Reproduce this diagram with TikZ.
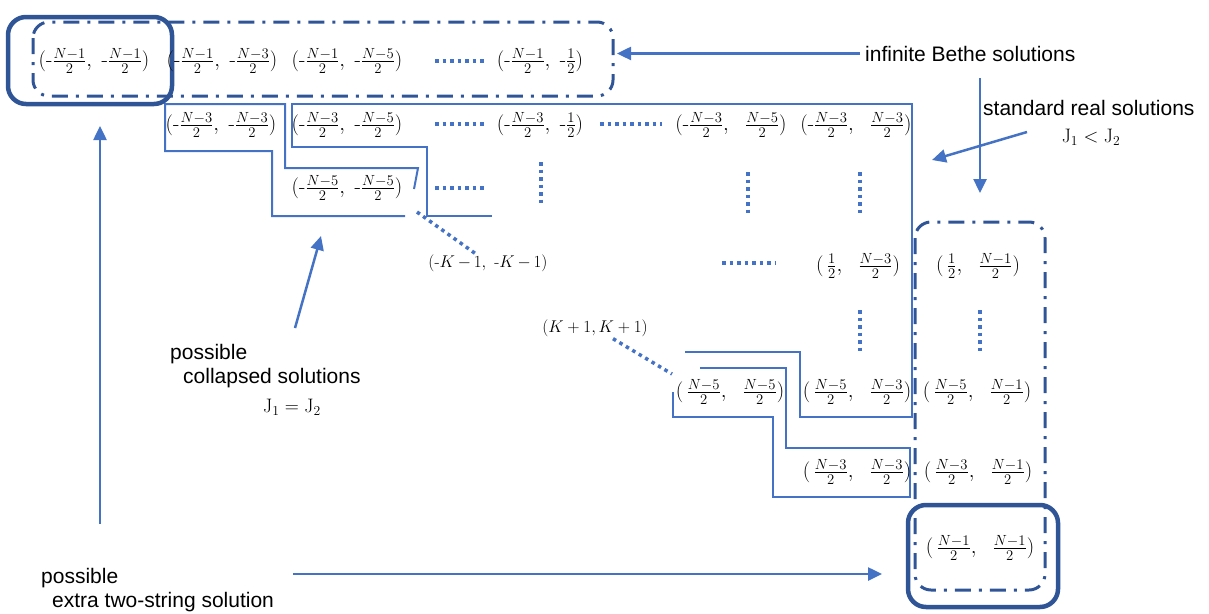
\RequirePackage{fix-cm}
\documentclass[tikz,border=0pt]{standalone}
\usepackage{fontspec}
\newfontfamily\arialf{Liberation Sans}
\usetikzlibrary{arrows.meta}
\definecolor{lb}{RGB}{68,114,196}
\definecolor{db}{RGB}{47,85,151}
\newcommand{\hy}{\mbox{-}}
\newcommand{\fr}[1]{\frac{#1}{2}}
\newcommand{\tm}{\mkern-1mu-\mkern-1mu}
\begin{document}
\begin{tikzpicture}[x=1pt,y=-1pt,
  lbl/.style={font=\arialf\fontsize{21}{25}\selectfont, inner sep=0pt},
  pr/.style={font=\fontsize{21}{25}\selectfont, inner sep=0pt},
  kk/.style={font=\fontsize{17}{20}\selectfont, inner sep=0pt},
  jj/.style={font=\fontsize{19.5}{22}\selectfont, inner sep=0pt},
  thinline/.style={draw=lb, line width=2pt},
  ddbox/.style={draw=db, line width=3pt, dash pattern=on 16pt off 8pt on 3pt off 8pt, rounded corners=16pt},
  thickbox/.style={draw=db, line width=4.5pt, rounded corners=18pt},
  dotline/.style={draw=lb, line width=3.5pt, dash pattern=on 3.5pt off 4pt},
  arr/.style={draw=lb, line width=2.5pt, -{Triangle[length=14pt,width=13pt]}}]
\useasboundingbox (0,0) rectangle (1209,613);

% staircase outlines
\draw[thinline] (492,216) -- (427,216) -- (427,147) -- (292,147) -- (292,104) -- (912,104) -- (912,417) -- (800,417) -- (800,352) -- (685,352);
\draw[thinline] (405,216) -- (272,216) -- (272,151) -- (165,151) -- (165,104) -- (285,104) -- (285,168) -- (418,168) -- (414,189);
\draw[thinline] (673,392) -- (673,417) -- (773,417) -- (773,497) -- (910,497) -- (910,448) -- (786,448) -- (786,368) -- (700,368);

% boxes
\draw[ddbox] (33,22) rectangle (613,96);
\draw[ddbox] (915,222) rectangle (1045,590);
\draw[thickbox] (8,17) rectangle (172,104);
\draw[thickbox] (908,505) rectangle (1058,607);

% row 1
\node[pr] (a11) at (94,61) {$(\hy\fr{N-1},\;\hy\fr{N-1})$};
\node[pr] (a12) at (222,61) {$(\hy\fr{N-1},\;\hy\fr{N-3})$};
\node[pr] (a13) at (347,61) {$(\hy\fr{N-1},\;\hy\fr{N-5})$};
\node[pr] (a14) at (540,61) {$(\hy\fr{N-1},\;\hy\fr{1})$};
% row 2
\node[pr] (a22) at (221,125) {$(\hy\fr{N-3},\;\hy\fr{N-3})$};
\node[pr] (a23) at (347,125) {$(\hy\fr{N-3},\;\hy\fr{N-5})$};
\node[pr] (a24) at (540,125) {$(\hy\fr{N-3},\;\hy\fr{1})$};
\node[pr] (a25) at (731,125) {$(\hy\fr{N-3},\ \ \fr{N-5})$};
\node[pr] (a26) at (856,125) {$(\hy\fr{N-3},\ \ \fr{N-3})$};
% row 3
\node[pr] (a33) at (347,188) {$(\hy\fr{N-5},\;\hy\fr{N-5})$};
% row 4
\node[kk] (kneg) at (488,263) {$(\hy K\tm 1,\ \hy K\tm 1)$};
\node[pr] (a45) at (858,266) {$(\,\fr{1},\ \ \fr{N-3})$};
\node[pr] (a46) at (978,266) {$(\,\fr{1},\ \ \fr{N-1})$};
% row 5
\node[kk] (kpos) at (595,328) {$(K+1,K+1)$};
% row 6
\node[pr] (a64) at (730,392) {$(\,\fr{N-5},\ \ \fr{N-5})$};
\node[pr] (a65) at (857,392) {$(\,\fr{N-5},\ \ \fr{N-3})$};
\node[pr] (a66) at (977,392) {$(\,\fr{N-5},\ \ \fr{N-1})$};
% row 7
\node[pr] (a75) at (857,472) {$(\,\fr{N-3},\ \ \fr{N-3})$};
\node[pr] (a76) at (978,472) {$(\,\fr{N-3},\ \ \fr{N-1})$};
% row 8
\node[pr] (a86) at (980,548) {$(\,\fr{N-1},\ \ \fr{N-1})$};

% dotted ellipses
\draw[dotline] (435,61) -- (487,61);
\draw[dotline] (435,124) -- (487,124);
\draw[dotline] (600,124) -- (662,124);
\draw[dotline] (435,188) -- (487,188);
\draw[dotline] (722,263) -- (775,263);
\draw[dotline] (541,162) -- (541,205);
\draw[dotline] (748,172) -- (748,214);
\draw[dotline] (860,172) -- (860,214);
\draw[dotline] (860,310) -- (860,354);
\draw[dotline] (980,310) -- (980,354);
\coordinate (lk1) at (417,212);
\coordinate (lk2) at (672,374);
\draw[dotline] (lk1) -- ([xshift=-13pt,yshift=1pt]kneg.north);
\draw[dotline] ([xshift=18pt,yshift=-2pt]kpos.south) -- (lk2);

% labels
\node[lbl, anchor=base west] (ibs) at (865,61) {infinite Bethe solutions};
\node[lbl, anchor=base west] (srs) at (983,115) {standard real solutions};
\node[jj] (srsj) at (1091,137) {$\mathrm{J}_1<\mathrm{J}_2$};
\node[lbl, anchor=base west] (pc1) at (170,359) {possible};
\node[lbl, anchor=base west] (pc2) at (183,383) {collapsed solutions};
\node[jj, anchor=west] (pc3) at (263,407) {$\mathrm{J}_1=\mathrm{J}_2$};
\node[lbl, anchor=base west] (pe1) at (41,583) {possible};
\node[lbl, anchor=base west] (pe2) at (52,607) {extra two-string solution};

% arrows
\coordinate (t1) at (617,0);
\draw[arr] ([xshift=-5pt]ibs.west) -- (ibs.west -| t1);
\coordinate (v1) at (980,78);
\coordinate (v2) at (980,193);
\draw[arr] (v1) -- (v2);
\coordinate (s1) at (1027,132);
\coordinate (s2) at (932,160);
\draw[arr] (s1) -- (s2);
\coordinate (c1) at (295,328);
\coordinate (c2) at (321,236);
\draw[arr] (c1) -- (c2);
\coordinate (e1) at (100,524);
\coordinate (e2) at (100,126);
\draw[arr] (e1) -- (e2);
\coordinate (b1) at (293,574);
\coordinate (b2) at (882,574);
\draw[arr] (b1) -- (b2);
\end{tikzpicture}
\end{document}
